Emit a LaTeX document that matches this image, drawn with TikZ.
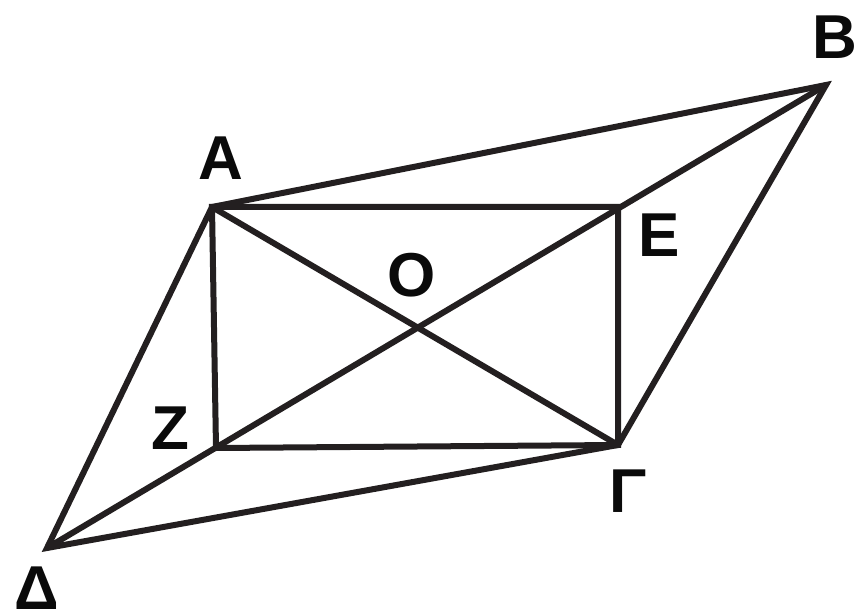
\documentclass[tikz,border=0pt]{standalone}
\usepackage{fontspec}
\setmainfont{Liberation Sans}
\definecolor{ln}{HTML}{231F20}
\definecolor{tx}{HTML}{0A0A0A}
\begin{document}
\begin{tikzpicture}[x=1pt,y=-1pt,
  edge/.style={draw=ln,line width=6pt,line join=miter,line cap=butt},
  lbl/.style={inner sep=0pt,text=tx,font=\fontsize{62}{62}\selectfont\bfseries}]
\useasboundingbox (0,0) rectangle (856,609);
\coordinate (A) at (212,207);
\coordinate (B) at (826,85);
\coordinate (G) at (618,445);
\coordinate (D) at (47,548);
\coordinate (E) at (618,207);
\coordinate (Z) at (216,448);
\coordinate (O) at (415,327);
\draw[edge] (A) -- (B) -- (G) -- (D) -- cycle;
\draw[edge] (A) -- (E) -- (G) -- (Z) -- cycle;
\draw[edge] (A) -- (G);
\draw[edge] (D) -- (B);
\node[lbl] (lA) at (221,158) {A};
\node[lbl] (lB) at (835,37) {B};
\node[lbl] (lE) at (659,235) {E};
\node[lbl] (lO) at (412,275) {O};
\node[lbl] (lZ) at (170,428) {Z};
\node[lbl] (lG) at (628,491) {Γ};
\node[lbl] (lD) at (37,588) {Δ};
\end{tikzpicture}
\end{document}
